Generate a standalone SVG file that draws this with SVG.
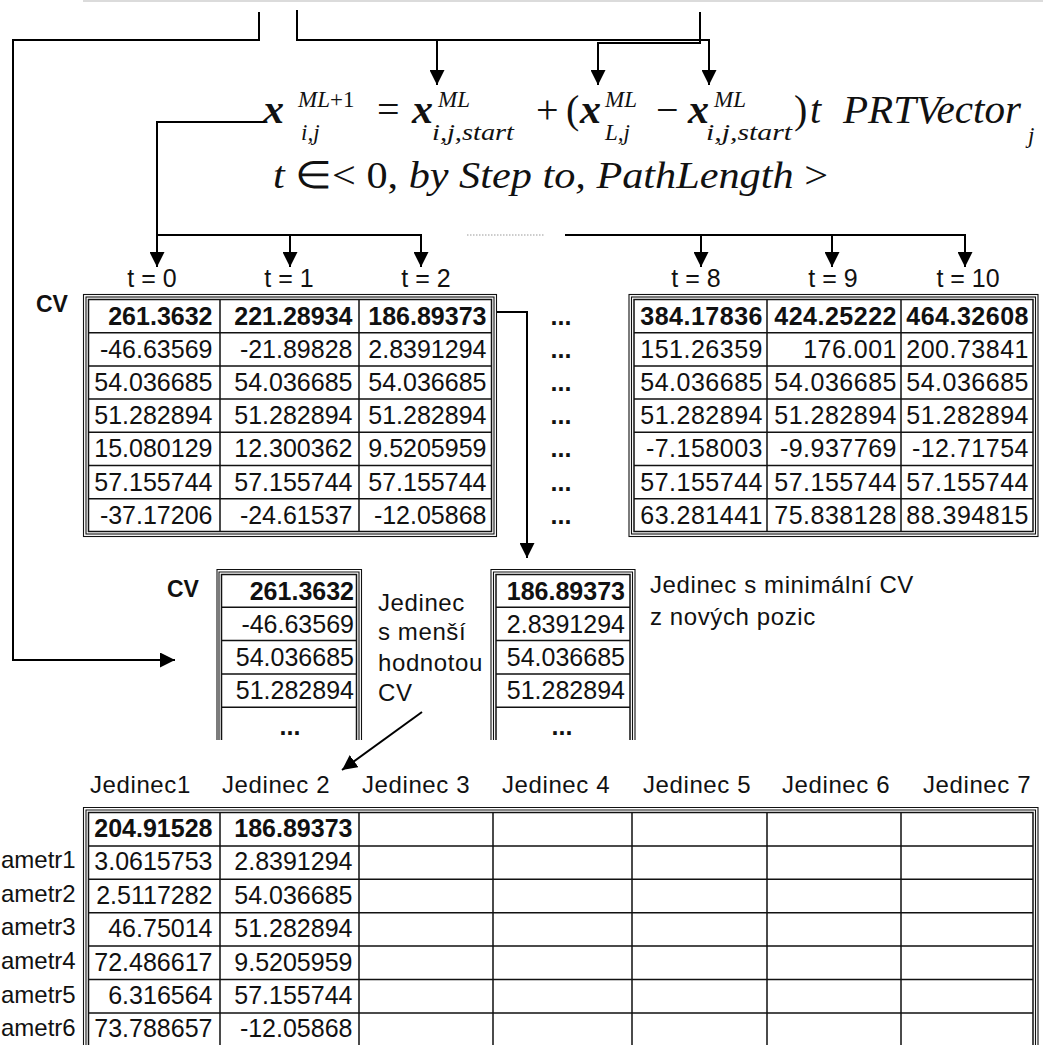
<svg xmlns="http://www.w3.org/2000/svg" width="1043" height="1045" viewBox="0 0 1043 1045">
<style>
.bg{fill:#fff}
.c{fill:none;stroke:#000;stroke-width:2}
.g{fill:none;stroke:#111;stroke-width:1.5}
.o{fill:none;stroke:#111;stroke-width:1.1}
.n{font-family:"Liberation Sans",Arial,sans-serif;font-size:25px;text-anchor:end;fill:#111}
.nb{font-family:"Liberation Sans",Arial,sans-serif;font-size:25px;font-weight:bold;text-anchor:end;fill:#111}
.r{letter-spacing:0.5px}
.lb{font-family:"Liberation Sans",Arial,sans-serif;font-size:23px;font-weight:bold;fill:#111}
.t{font-family:"Liberation Sans",Arial,sans-serif;font-size:25px;text-anchor:middle;fill:#111}
.d{font-family:"Liberation Sans",Arial,sans-serif;font-size:25px;font-weight:bold;text-anchor:middle;fill:#111}
.s{font-family:"Liberation Sans",Arial,sans-serif;font-size:24px;fill:#111;letter-spacing:0.6px}
.pl{font-family:"Liberation Sans",Arial,sans-serif;font-size:24px;fill:#111}
.fx{font-family:"Liberation Serif","Times New Roman",serif;font-size:42px;font-style:italic;font-weight:bold;fill:#111}
.fr{font-family:"Liberation Serif","Times New Roman",serif;font-size:40px;fill:#111}
.fi{font-family:"Liberation Serif","Times New Roman",serif;font-size:40px;font-style:italic;fill:#111}
.fs{font-family:"Liberation Serif","Times New Roman",serif;font-size:23px;font-style:italic;fill:#111}
.f2{font-family:"Liberation Serif","Times New Roman",serif;font-size:38px;font-style:italic;fill:#111}
</style>
<defs>
<marker id="ah" markerWidth="15" markerHeight="15" refX="15" refY="7.5" orient="auto" markerUnits="userSpaceOnUse">
<path d="M0,0 L15,7.5 L0,15 z" fill="#000"/>
</marker>
</defs>
<rect class="bg" x="0" y="0" width="1043" height="1045"/>
<line x1="83" y1="1" x2="1043" y2="1" stroke="#cfcfcf" stroke-width="1.5"/>

<g id="formula">
<text class="fx" x="263" y="123">x</text>
<text class="fs" x="298" y="107">ML<tspan font-style="normal">+1</tspan></text>
<text class="fs" x="301" y="140">i,j</text>
<text class="fr" x="377" y="123">=</text>
<text class="fx" x="412" y="123">x</text>
<text class="fs" x="438" y="107">ML</text>
<text class="fs" x="432" y="140" textLength="82" lengthAdjust="spacingAndGlyphs">i,j,start</text>
<text class="fr" x="536" y="123">+</text>
<text class="fr" x="566" y="123">(</text>
<text class="fx" x="580" y="123">x</text>
<text class="fs" x="605" y="107">ML</text>
<text class="fs" x="605" y="140">L,j</text>
<text class="fr" x="656" y="123">−</text>
<text class="fx" x="688" y="123">x</text>
<text class="fs" x="714" y="107">ML</text>
<text class="fs" x="706" y="140" textLength="86" lengthAdjust="spacingAndGlyphs">i,j,start</text>
<text class="fr" x="794" y="123">)</text>
<text class="fi" x="810" y="123">t</text>
<text class="fi" x="843" y="123" textLength="178" lengthAdjust="spacingAndGlyphs">PRTVector</text>
<text class="fs" x="1028" y="143">j</text>
<text class="f2" x="273" y="188" textLength="555" lengthAdjust="spacingAndGlyphs">t <tspan font-style="normal">∈&lt; 0,</tspan> by Step to, PathLength <tspan font-style="normal">&gt;</tspan></text>
</g>

<g id="connectors">
<path class="c" d="M259,12 V40 H13 V660 H175" marker-end="url(#ah)"/>
<path class="c" d="M297,10 V40 H709 V85" marker-end="url(#ah)"/>
<path class="c" d="M437,40 V85" marker-end="url(#ah)"/>
<path class="c" d="M700,12 V43 H598 V85" marker-end="url(#ah)"/>
<path class="c" d="M265,122 H157 V267" marker-end="url(#ah)"/>
<path class="c" d="M157,235 H421 V267" marker-end="url(#ah)"/>
<path class="c" d="M290,235 V267" marker-end="url(#ah)"/>
<line x1="467" y1="235" x2="545" y2="235" stroke="#999" stroke-width="1" stroke-dasharray="1.5,1.5"/>
<path class="c" d="M565,235 H965 V267" marker-end="url(#ah)"/>
<path class="c" d="M701,235 V267" marker-end="url(#ah)"/>
<path class="c" d="M832,235 V267" marker-end="url(#ah)"/>
<path class="c" d="M497,312 H527 V558" marker-end="url(#ah)"/>
<path class="c" d="M422,712 L342,770" stroke-width="1.8" marker-end="url(#ah)"/>
</g>

<g id="t-labels">
<text class="t" x="152" y="287">t = 0</text>
<text class="t" x="289" y="287">t = 1</text>
<text class="t" x="426" y="287">t = 2</text>
<text class="t" x="696" y="287">t = 8</text>
<text class="t" x="833" y="287">t = 9</text>
<text class="t" x="968" y="287">t = 10</text>
</g>

<g id="table-left">
<text class="lb" x="36" y="312">CV</text>
<rect class="o" x="83.5" y="294.5" width="413" height="242"/>
<rect class="o" x="86" y="297" width="408" height="237"/>
<rect class="g" x="88.5" y="299.5" width="403" height="232"/>
<path class="g" d="M220,299.5 V531.5 M359,299.5 V531.5 M88.5,332.7 H491.5 M88.5,365.9 H491.5 M88.5,399.1 H491.5 M88.5,432.3 H491.5 M88.5,465.5 H491.5 M88.5,498.7 H491.5"/>
<text class="nb" x="212.5" y="324.5">261.3632</text>
<text class="nb" x="352.5" y="324.5">221.28934</text>
<text class="nb" x="486.5" y="324.5">186.89373</text>
<text class="n" x="212.5" y="357.7">-46.63569</text>
<text class="n" x="352.5" y="357.7">-21.89828</text>
<text class="n" x="486.5" y="357.7">2.8391294</text>
<text class="n" x="212.5" y="390.9">54.036685</text>
<text class="n" x="352.5" y="390.9">54.036685</text>
<text class="n" x="486.5" y="390.9">54.036685</text>
<text class="n" x="212.5" y="424.1">51.282894</text>
<text class="n" x="352.5" y="424.1">51.282894</text>
<text class="n" x="486.5" y="424.1">51.282894</text>
<text class="n" x="212.5" y="457.3">15.080129</text>
<text class="n" x="352.5" y="457.3">12.300362</text>
<text class="n" x="486.5" y="457.3">9.5205959</text>
<text class="n" x="212.5" y="490.5">57.155744</text>
<text class="n" x="352.5" y="490.5">57.155744</text>
<text class="n" x="486.5" y="490.5">57.155744</text>
<text class="n" x="212.5" y="523.7">-37.17206</text>
<text class="n" x="352.5" y="523.7">-24.61537</text>
<text class="n" x="486.5" y="523.7">-12.05868</text>
</g>

<g id="dots-column">
<text class="d" x="561" y="324.5">...</text>
<text class="d" x="561" y="357.7">...</text>
<text class="d" x="561" y="390.9">...</text>
<text class="d" x="561" y="424.1">...</text>
<text class="d" x="561" y="457.3">...</text>
<text class="d" x="561" y="490.5">...</text>
<text class="d" x="561" y="523.7">...</text>
</g>

<g id="table-right">
<rect class="o" x="629" y="294.5" width="409" height="242"/>
<rect class="o" x="631.5" y="297" width="404" height="237"/>
<rect class="g" x="634" y="299.5" width="399" height="232"/>
<path class="g" d="M767,299.5 V531.5 M901,299.5 V531.5 M634,332.7 H1033 M634,365.9 H1033 M634,399.1 H1033 M634,432.3 H1033 M634,465.5 H1033 M634,498.7 H1033"/>
<g class="r">
<text class="nb" x="763" y="324.5">384.17836</text>
<text class="nb" x="897" y="324.5">424.25222</text>
<text class="nb" x="1029" y="324.5">464.32608</text>
<text class="n" x="763" y="357.7">151.26359</text>
<text class="n" x="897" y="357.7">176.001</text>
<text class="n" x="1029" y="357.7">200.73841</text>
<text class="n" x="763" y="390.9">54.036685</text>
<text class="n" x="897" y="390.9">54.036685</text>
<text class="n" x="1029" y="390.9">54.036685</text>
<text class="n" x="763" y="424.1">51.282894</text>
<text class="n" x="897" y="424.1">51.282894</text>
<text class="n" x="1029" y="424.1">51.282894</text>
<text class="n" x="763" y="457.3">-7.158003</text>
<text class="n" x="897" y="457.3">-9.937769</text>
<text class="n" x="1029" y="457.3">-12.71754</text>
<text class="n" x="763" y="490.5">57.155744</text>
<text class="n" x="897" y="490.5">57.155744</text>
<text class="n" x="1029" y="490.5">57.155744</text>
<text class="n" x="763" y="523.7">63.281441</text>
<text class="n" x="897" y="523.7">75.838128</text>
<text class="n" x="1029" y="523.7">88.394815</text>
</g>
</g>

<g id="individual-smaller">
<text class="lb" x="167" y="597">CV</text>
<path class="o" d="M217,740 V569.5 H361.5 V740 M219,740 V572 H359 V740"/>
<path class="g" d="M221.5,740 V574.5 H356.5 V740 M221.5,607.3 H356.5 M221.5,640.6 H356.5 M221.5,673.9 H356.5 M221.5,707.2 H356.5"/>
<text class="nb" x="354" y="599.5">261.3632</text>
<text class="n" x="354" y="632.8">-46.63569</text>
<text class="n" x="354" y="666">54.036685</text>
<text class="n" x="354" y="699.4">51.282894</text>
<text class="d" x="290" y="735">...</text>
<text class="s" x="378" y="611">Jedinec</text>
<text class="s" x="378" y="640">s menší</text>
<text class="s" x="378" y="671">hodnotou</text>
<text class="s" x="378" y="701">CV</text>
</g>

<g id="individual-min">
<path class="o" d="M491,740 V569.5 H635 V740 M493.5,740 V572 H632.5 V740"/>
<path class="g" d="M496,740 V574.5 H630 V740 M496,607.3 H630 M496,640.6 H630 M496,673.9 H630 M496,707.2 H630"/>
<text class="nb" x="625" y="599.5">186.89373</text>
<text class="n" x="625" y="632.8">2.8391294</text>
<text class="n" x="625" y="666">54.036685</text>
<text class="n" x="625" y="699.4">51.282894</text>
<text class="d" x="562" y="735">...</text>
<text class="s" x="650" y="593">Jedinec s minimální CV</text>
<text class="s" x="650" y="625">z nových pozic</text>
</g>

<g id="population-table">
<text class="s" x="90" y="793">Jedinec1</text>
<text class="s" x="222" y="793">Jedinec 2</text>
<text class="s" x="362" y="793">Jedinec 3</text>
<text class="s" x="502" y="793">Jedinec 4</text>
<text class="s" x="643" y="793">Jedinec 5</text>
<text class="s" x="782" y="793">Jedinec 6</text>
<text class="s" x="923" y="793">Jedinec 7</text>
<path class="o" d="M83.5,1050 V807.5 H1038 V1050 M86,1050 V810 H1035.5 V1050"/>
<path class="g" d="M88.5,1050 V812.5 H1033 V1050 M220,812.5 V1050 M359,812.5 V1050 M493,812.5 V1050 M632,812.5 V1050 M767,812.5 V1050 M901,812.5 V1050 M88.5,845.9 H1033 M88.5,879.3 H1033 M88.5,912.7 H1033 M88.5,946.1 H1033 M88.5,979.5 H1033 M88.5,1012.9 H1033"/>
<text class="pl" x="1" y="868">ametr1</text>
<text class="pl" x="1" y="902">ametr2</text>
<text class="pl" x="1" y="935">ametr3</text>
<text class="pl" x="1" y="969">ametr4</text>
<text class="pl" x="1" y="1003">ametr5</text>
<text class="pl" x="1" y="1036">ametr6</text>
<text class="nb" x="212.5" y="837">204.91528</text>
<text class="nb" x="352.5" y="837">186.89373</text>
<text class="n" x="212.5" y="870.4">3.0615753</text>
<text class="n" x="352.5" y="870.4">2.8391294</text>
<text class="n" x="212.5" y="903.8">2.5117282</text>
<text class="n" x="352.5" y="903.8">54.036685</text>
<text class="n" x="212.5" y="937.2">46.75014</text>
<text class="n" x="352.5" y="937.2">51.282894</text>
<text class="n" x="212.5" y="970.6">72.486617</text>
<text class="n" x="352.5" y="970.6">9.5205959</text>
<text class="n" x="212.5" y="1004">6.316564</text>
<text class="n" x="352.5" y="1004">57.155744</text>
<text class="n" x="212.5" y="1037.4">73.788657</text>
<text class="n" x="352.5" y="1037.4">-12.05868</text>
</g>
</svg>
